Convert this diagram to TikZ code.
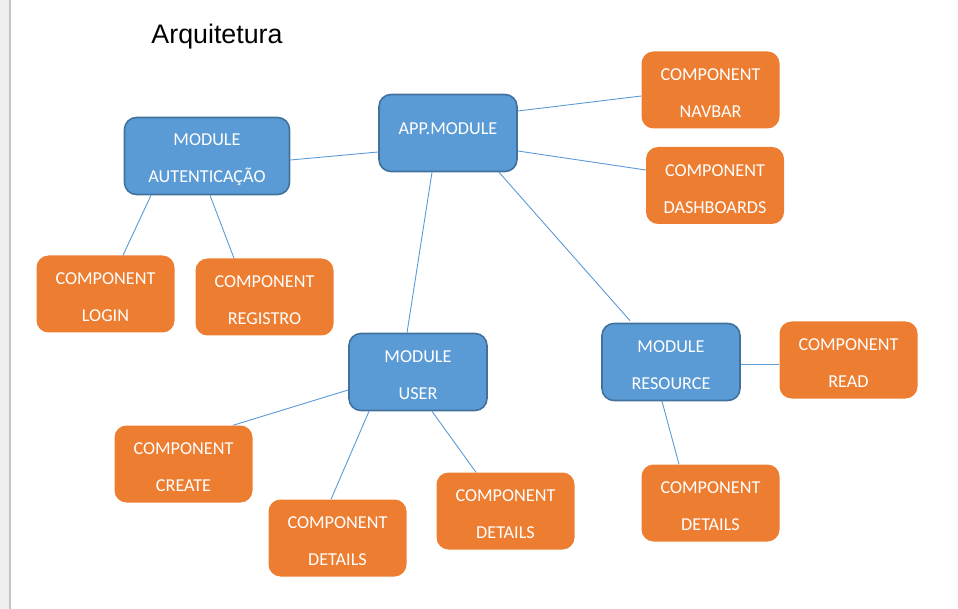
\documentclass[tikz,border=0pt]{standalone}
\usepackage{fontspec}
\setmainfont{Carlito}
\newfontfamily\titlefont{Liberation Sans}
\usetikzlibrary{calc}
\definecolor{modfill}{HTML}{5B9BD5}
\definecolor{moddraw}{HTML}{41719C}
\definecolor{compfill}{HTML}{ED7D31}
\definecolor{connclr}{HTML}{5B9BD5}
\definecolor{stripclr}{HTML}{F0F0F0}
\definecolor{stripline}{HTML}{C4C4C4}
\newcommand\twolines[2]{\rule{0pt}{19pt}#1\\#2}
\tikzset{
  box/.style={rounded corners=12pt, minimum width=138pt, minimum height=77pt, inner sep=0pt,
    text=white, align=center, font=\fontsize{18.2}{37}\selectfont},
  modbox/.style={box, fill=modfill, draw=moddraw, line width=1.6pt},
  compbox/.style={box, fill=compfill},
  conn/.style={draw=connclr, line width=0.9pt}
}
\begin{document}
\begin{tikzpicture}[x=1pt,y=-1pt]
\useasboundingbox (0,0) rectangle (958,609);
\fill[stripclr] (0,0) rectangle (10,609);
\draw[stripline, line width=1.2pt] (10,0) -- (10,609);
\node[font=\titlefont\fontsize{26.8}{30}\selectfont] (title) at (217,37) {Arquitetura};

\node[modbox] (app) at (448,133) {APP.MODULE\rule[-8pt]{0pt}{0pt}};
\node[modbox, minimum width=165pt] (auth) at (207,156) {\twolines{MODULE}{AUTENTICAÇÃO}};
\node[compbox] (navbar) at (710.5,90) {\twolines{COMPONENT}{NAVBAR}};
\node[compbox] (dash) at (715,185.5) {\twolines{COMPONENT}{DASHBOARDS}};
\node[compbox] (login) at (105.5,294) {\twolines{COMPONENT}{LOGIN}};
\node[compbox] (registro) at (264.5,297) {\twolines{COMPONENT}{REGISTRO}};
\node[modbox] (user) at (418,372) {\twolines{MODULE}{USER}};
\node[modbox] (resource) at (671,362) {\twolines{MODULE}{RESOURCE}};
\node[compbox] (read) at (848.5,360) {\twolines{COMPONENT}{READ}};
\node[compbox] (create) at (183.5,464) {\twolines{COMPONENT}{CREATE}};
\node[compbox] (det1) at (337.5,538) {\twolines{COMPONENT}{DETAILS}};
\node[compbox] (det2) at (505.5,511) {\twolines{COMPONENT}{DETAILS}};
\node[compbox] (det3) at (710.5,503) {\twolines{COMPONENT}{DETAILS}};

\draw[conn] ($(auth.east)+(0,4)$) -- ($(app.west)+(0,19)$);
\draw[conn] ($(app.east)+(0,-22)$) -- ($(navbar.west)+(0,6)$);
\draw[conn] ($(app.east)+(0,18)$) -- ($(dash.west)+(0,-15.5)$);
\draw[conn] ($(app.south)+(-16,0)$) -- ($(user.north)+(-11,0)$);
\draw[conn] ($(app.south)+(51,0)$) -- ($(resource.north)+(-41,-2)$);
\draw[conn] ($(auth.south)+(-56,0)$) -- ($(login.north)+(17.5,0)$);
\draw[conn] ($(auth.south)+(3,0)$) -- ($(registro.north)+(-30.5,0)$);
\draw[conn] ($(user.west)+(0,18)$) -- ($(create.north)+(49.5,0)$);
\draw[conn] ($(user.south)+(-49,0)$) -- ($(det1.north)+(-6.5,0)$);
\draw[conn] ($(user.south)+(14,0)$) -- ($(det2.north)+(-29.5,0)$);
\draw[conn] ($(resource.east)+(0,2)$) -- ($(read.west)+(0,4)$);
\draw[conn] ($(resource.south)+(-9,0)$) -- ($(det3.north)+(-31.5,0)$);
\end{tikzpicture}
\end{document}
